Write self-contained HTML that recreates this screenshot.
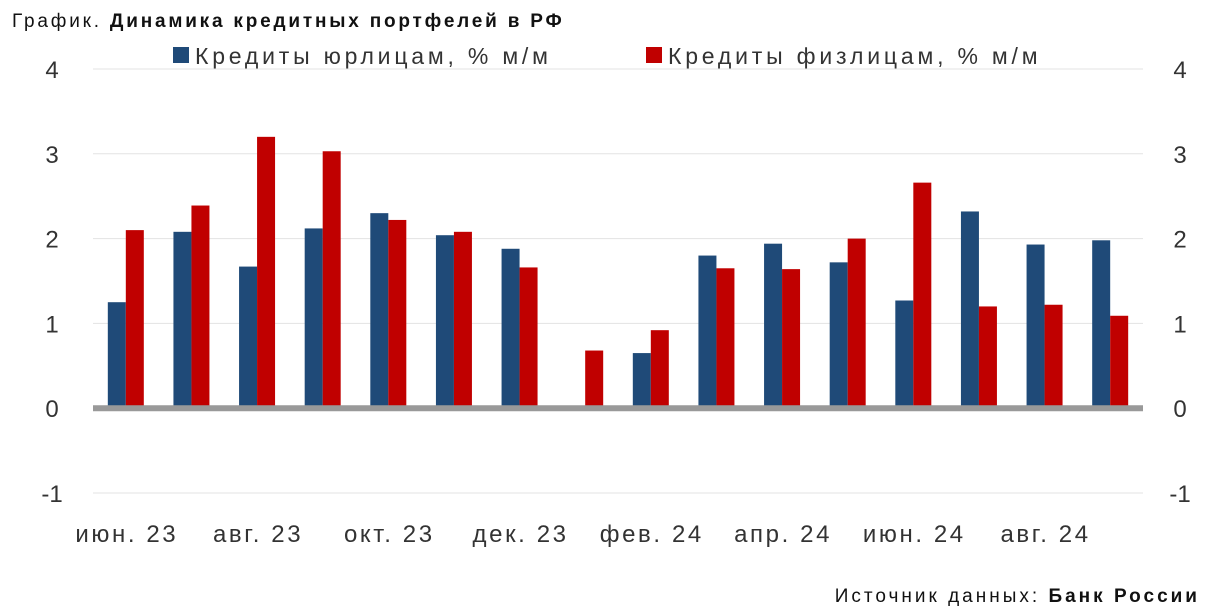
<!DOCTYPE html>
<html><head><meta charset="utf-8"><style>
body{margin:0;background:#fff;font-family:"Liberation Sans",sans-serif;}
svg text{font-family:"Liberation Sans",sans-serif;}
</style></head><body>
<svg id="c" width="1213" height="607">
<text x="12" y="27" font-size="19" fill="#111" letter-spacing="2.8">График. <tspan font-weight="bold">Динамика кредитных портфелей в РФ</tspan></text>
<g>
<rect x="173" y="47" width="16" height="16" fill="#1f4a78"/>
<text x="195" y="64" font-size="23" fill="#333" letter-spacing="3.8">Кредиты юрлицам, % м/м</text>
<rect x="646" y="47" width="16" height="16" fill="#c00000"/>
<text x="668" y="64" font-size="23" fill="#333" letter-spacing="3.8">Кредиты физлицам, % м/м</text>
</g>
<g id="grid"></g><g id="bars"></g><g id="axes"></g>
<text x="1200" y="602" text-anchor="end" font-size="19" fill="#111" letter-spacing="3">Источник данных: <tspan font-weight="bold">Банк России</tspan></text>
</svg>
<script>
const categories=["июн. 23","июл. 23","авг. 23","сен. 23","окт. 23","ноя. 23","дек. 23","янв. 24","фев. 24","мар. 24","апр. 24","май 24","июн. 24","июл. 24","авг. 24","сен. 24"];
const corporate=[1.25,2.08,1.67,2.12,2.3,2.04,1.88,0,0.65,1.8,1.94,1.72,1.27,2.32,1.93,1.98];
const retail=[2.1,2.39,3.2,3.03,2.22,2.08,1.66,0.68,0.92,1.65,1.64,2.0,2.66,1.2,1.22,1.09];
const yTicks=[-1,0,1,2,3,4];
const NS="http://www.w3.org/2000/svg";
const x0=93,x1=1143,yTop=69,yBot=493,yMax=4,yMin=-1;
const y=v=>yTop+(yMax-v)/(yMax-yMin)*(yBot-yTop);
const gw=(x1-x0)/categories.length;
const gx=i=>x0+gw*(i+0.5);
function mk(tag,attrs,parent){const e=document.createElementNS(NS,tag);for(const k in attrs)e.setAttribute(k,attrs[k]);document.getElementById(parent).appendChild(e);return e;}
yTicks.forEach(t=>{
 if(t!==0){const l=mk('line',{x1:x0,x2:x1,y1:y(t),y2:y(t),stroke:'#e3e3e3','stroke-width':1},'grid');
 
 }
 const a=mk('text',{x:52,y:y(t)+9,'text-anchor':'middle','font-size':24,fill:'#333'},'axes');a.textContent=t;
 
 
 const b=mk('text',{x:1180,y:y(t)+9,'text-anchor':'middle','font-size':24,fill:'#333'},'axes');b.textContent=t;
 
 
});
const bw=18;
categories.forEach((c,i)=>{
 const cx=gx(i);
 [[corporate[i],'#1f4a78',cx-bw,'bar-corporate'],[retail[i],'#c00000',cx,'bar-retail']].forEach(([v,col,bx,n])=>{
  if(!v)return;
  const top=Math.min(y(v),y(0)),h=Math.abs(y(v)-y(0));
  const r=mk('rect',{x:bx,y:top,width:bw,height:h,fill:col},'bars');
  
  
 });
 if(i%2===0){const t=mk('text',{x:cx+1,y:542,'text-anchor':'middle','font-size':24,fill:'#333','letter-spacing':2.6},'axes');t.textContent=c;
 
 }
});
const z=mk('line',{x1:x0,x2:x1,y1:y(0),y2:y(0),stroke:'#999','stroke-width':6},'axes');


</script>
</body></html>
